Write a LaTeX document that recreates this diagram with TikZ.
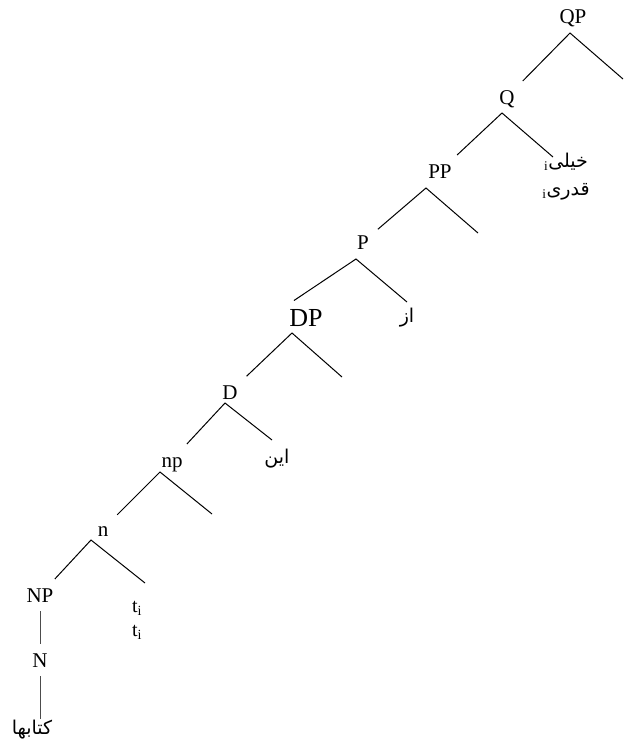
\documentclass[tikz,border=0pt]{standalone}
\usepackage{fontspec}
\setmainfont{Liberation Serif}
\newfontfamily\arabicfont[Script=Arabic]{DejaVu Sans}
\TeXXeTstate=1
\usepackage{tikz}
\usetikzlibrary{positioning, calc}
\tikzstyle{cat} = [inner sep=2pt, outer sep=7pt, text height=14pt, text depth=0pt, font=\fontsize{21}{23}\selectfont]
\tikzstyle{bigcat} = [cat, text height=17pt, font=\fontsize{26}{28}\selectfont]
\tikzstyle{leaf} = [inner sep=1pt, outer sep=0pt, font=\fontsize{20}{22}\selectfont]
\tikzstyle{fa} = [inner sep=1pt, outer sep=0pt, font=\fontsize{19}{21}\selectfont]
\tikzstyle{branch} = [line width=1pt]
\tikzstyle{stem} = [line width=0.6pt, black!70]
\begin{document}
\begin{tikzpicture}[x=1pt, y=-1pt]
        \useasboundingbox (0,0) rectangle (632,740);
        % spine of the tree
        \node (QP) [cat] at (573,16) {QP};
        \node (Q) [cat] at (507,97) {Q};
        \node (PP) [cat] at (440,171) {PP};
        \node (P) [cat] at (363,242) {P};
        \node (DP) [bigcat] at (306,318) {DP};
        \node (D) [cat] at (230,392) {D};
        \node (np) [cat] at (172,460) {np};
        \node (n) [cat] at (103,529) {n};
        \node (NP) [cat] at (40,595) {NP};
        \node (N) [cat] at (40,660) {N};
        % leaves
        \node (khili) [fa] at (566,162) {\textsubscript{i}{\arabicfont\beginR خیلی\endR}};
        \node (qadri) [fa] at (566,192) {\textsubscript{i}{\arabicfont\beginR قدری\endR}};
        \node (az) [fa] at (407,318) {{\arabicfont\beginR از\endR}};
        \node (in) [fa] at (277,459) {{\arabicfont\beginR این\endR}};
        \node (ti) [leaf] at (137,608) {t\textsubscript{i}};
        \node (tii) [leaf] at (137,632) {t\textsubscript{i}};
        \node (ketab) [fa] at (32,730) {{\arabicfont\beginR کتابها\endR}};
        % tops of the branches
        \coordinate (QPa) at (570,33);
        \coordinate (Qa) at (502,113);
        \coordinate (PPa) at (426,188);
        \coordinate (Pa) at (356,259);
        \coordinate (DPa) at (292,333);
        \coordinate (Da) at (225,403);
        \coordinate (npa) at (160,472);
        \coordinate (na) at (91,540);
        % ends of the right branches
        \coordinate (QPr) at (623,79);
        \coordinate (Qr) at (553,157);
        \coordinate (PPr) at (478,233);
        \coordinate (Pr) at (407,302);
        \coordinate (DPr) at (342,377);
        \coordinate (Dr) at (272,440);
        \coordinate (npr) at (212,514);
        \coordinate (nr) at (145,583);

        \draw [branch] (Q) -- (QPa) -- (QPr);
        \draw [branch] (PP) -- (Qa) -- (Qr);
        \draw [branch] (P) -- (PPa) -- (PPr);
        \draw [branch] ([xshift=-12pt]DP.north) -- (Pa) -- (Pr);
        \draw [branch] (D) -- (DPa) -- (DPr);
        \draw [branch] (np) -- (Da) -- (Dr);
        \draw [branch] (n) -- (npa) -- (npr);
        \draw [branch] (NP) -- (na) -- (nr);
        \draw [stem] (NP.south) -- (N.north);
        \draw [stem] (N.south) -- (N.south |- ketab.north);
    \end{tikzpicture}
\end{document}
